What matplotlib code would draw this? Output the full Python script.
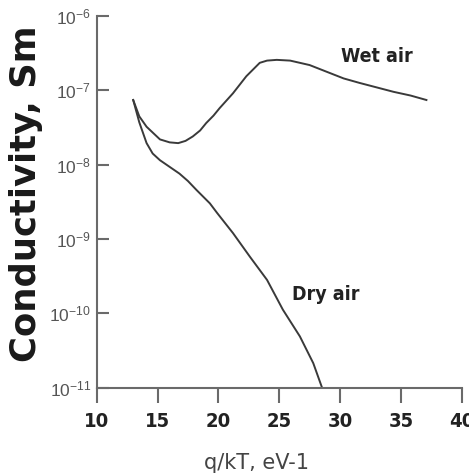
import matplotlib
matplotlib.use("Agg")
import matplotlib.pyplot as plt
import numpy as np

# Data (x = q/kT in eV^-1, y = log10 conductivity)
wet_x = [13.0, 13.5, 14.1, 15.2, 16.0, 16.7, 17.3, 17.9, 18.5, 19.0, 19.6, 20.1,
         21.2, 22.3, 23.4, 24.0, 24.8, 25.9, 26.7, 27.5, 28.9, 30.3, 31.6,
         33.0, 34.4, 35.8, 37.1]
wet_log = [-7.13, -7.35, -7.49, -7.66, -7.70, -7.71, -7.68, -7.62, -7.54, -7.44,
           -7.34, -7.24, -7.04, -6.81, -6.63, -6.60, -6.59, -6.60, -6.63, -6.66,
           -6.75, -6.84, -6.90, -6.96, -7.02, -7.07, -7.13]

dry_x = [13.0, 13.5, 14.1, 14.6, 15.2, 16.0, 16.8, 17.5, 18.2, 19.3, 19.9,
         21.2, 22.6, 24.0, 25.3, 26.7, 27.8, 28.5]
dry_log = [-7.13, -7.43, -7.71, -7.85, -7.94, -8.03, -8.12, -8.22, -8.34, -8.52,
           -8.65, -8.92, -9.24, -9.55, -9.95, -10.31, -10.67, -10.99]

x_ticks = [10, 15, 20, 25, 30, 35, 40]
y_exps = [-11, -10, -9, -8, -7, -6]
y_label = "Conductivity, Sm"
x_label = "q/kT, eV-1"
wet_label = "Wet air"
dry_label = "Dry air"

plain = ["Liberation Sans", "DejaVu Sans"]

fig = plt.figure(figsize=(4.69, 4.75), dpi=100)
ax = fig.add_axes([96.7 / 469, 1 - 387.7 / 475, 365 / 469, (387.7 - 16) / 475])

line_col = "#3a3a3a"
ax.semilogy(wet_x, 10.0 ** np.array(wet_log), color=line_col, lw=1.4)
ax.semilogy(dry_x, 10.0 ** np.array(dry_log), color=line_col, lw=1.4)

ax.set_xlim(10, 40)
ax.set_ylim(1e-11, 1e-6)

for s in ["top", "right"]:
    ax.spines[s].set_visible(False)
for s in ["left", "bottom"]:
    ax.spines[s].set_color("#6a6a6a")
    ax.spines[s].set_linewidth(1.5)

ax.set_xticks(x_ticks)
ax.set_xticklabels([str(v) for v in x_ticks], family="DejaVu Sans", fontstretch="condensed",
                   fontweight="bold", fontsize=14.5, color="#222222")
ax.set_yticks([10.0 ** e for e in y_exps])
ax.set_yticklabels([r"$\mathregular{10^{%d}}$" % e for e in y_exps],
                   family=plain, fontsize=12.5, color="#555555")
ax.minorticks_off()
ax.tick_params(axis="x", direction="out", length=11, width=1.5, color="#6a6a6a", pad=6.5)
ax.tick_params(axis="y", direction="in", length=8.5, width=1.5, color="#6a6a6a", pad=4)

ax.text(33.0, 10 ** -6.54, wet_label, family="DejaVu Sans", fontstretch="condensed",
        fontweight="bold", fontsize=14, color="#222222", ha="center", va="center")
ax.text(28.8, 10 ** -9.75, dry_label, family="DejaVu Sans", fontstretch="condensed",
        fontweight="bold", fontsize=14, color="#222222", ha="center", va="center")

fig.text(26 / 469, 1 - 194 / 475, y_label, rotation=90, family="DejaVu Sans",
         fontweight="bold", fontsize=25.5, color="#1a1a1a", ha="center", va="center")
fig.text(256 / 469, 1 - 463 / 475, x_label, family="DejaVu Sans", fontsize=15,
         color="#444444", ha="center", va="center")

fig.savefig("out.png", dpi=100)
